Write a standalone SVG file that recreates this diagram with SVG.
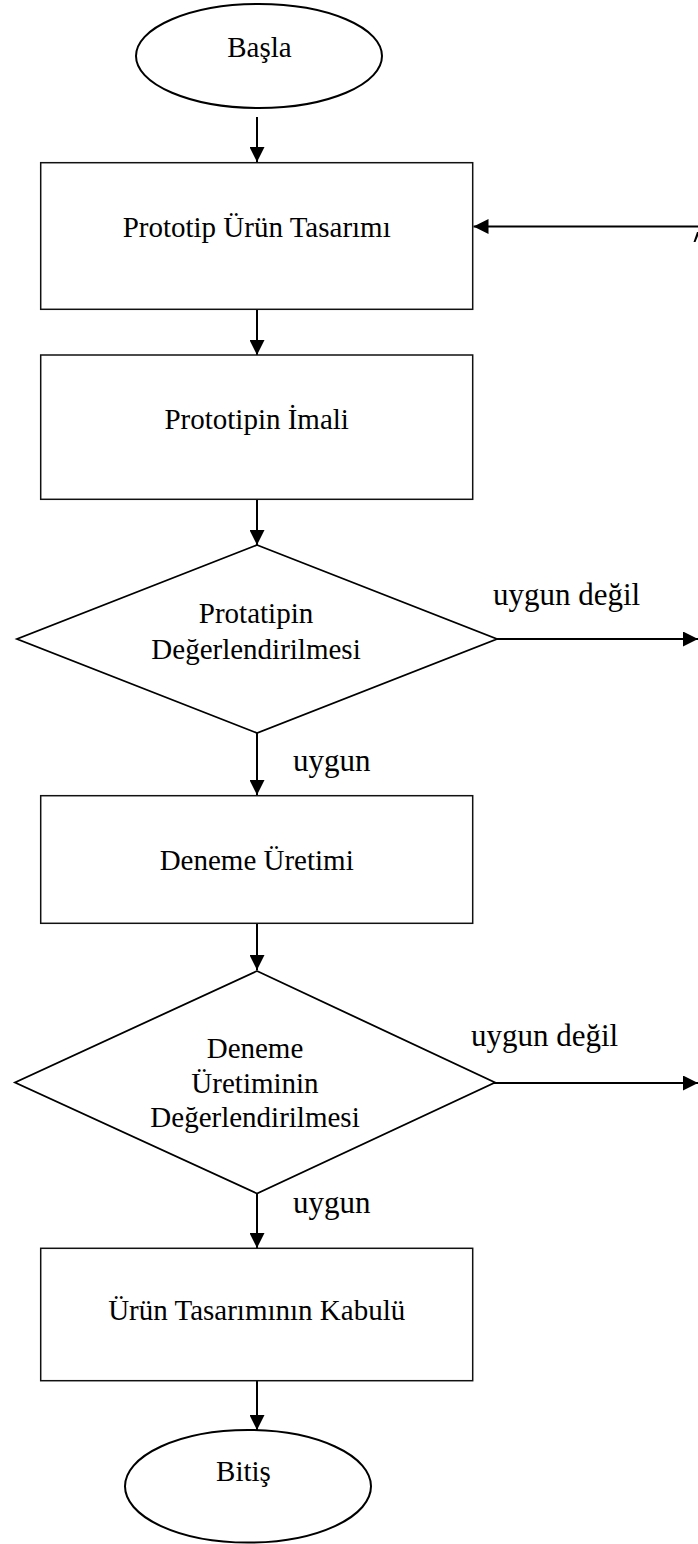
<svg xmlns="http://www.w3.org/2000/svg" width="698" height="1544" viewBox="0 0 698 1544">
  <style>
    .box { fill: #fff; stroke: #111; stroke-width: 1.5; }
    .term { fill: #fff; stroke: #000; stroke-width: 2; }
    .dec { fill: #fff; stroke: #000; stroke-width: 1.8; }
    .lbl { font-family: "Liberation Serif", "Times New Roman", serif; font-size: 29px; fill: #000; text-anchor: middle; }
    .edge { font-family: "Liberation Serif", "Times New Roman", serif; font-size: 31px; fill: #000; }
    .conn { stroke: #000; stroke-width: 2; fill: none; }
  </style>
  <defs>
    <marker id="arrow" viewBox="0 0 15 15" refX="15" refY="7.5" markerWidth="15" markerHeight="15" markerUnits="userSpaceOnUse" orient="auto">
      <path d="M0,0 L15,7.5 L0,15 Z" fill="#000"/>
    </marker>
  </defs>

  <rect width="698" height="1544" fill="#fff"/>

  <!-- flow connectors -->
  <g id="connectors">
    <line class="conn" x1="257" y1="117" x2="257" y2="162" marker-end="url(#arrow)"/>
    <line class="conn" x1="257" y1="310" x2="257" y2="355" marker-end="url(#arrow)"/>
    <line class="conn" x1="257" y1="500" x2="257" y2="545" marker-end="url(#arrow)"/>
    <line class="conn" x1="257" y1="733" x2="257" y2="795" marker-end="url(#arrow)"/>
    <line class="conn" x1="257" y1="924" x2="257" y2="970" marker-end="url(#arrow)"/>
    <line class="conn" x1="257" y1="1193" x2="257" y2="1248" marker-end="url(#arrow)"/>
    <line class="conn" x1="257" y1="1381" x2="257" y2="1430" marker-end="url(#arrow)"/>
    <!-- rejection exits to the right -->
    <line class="conn" x1="495" y1="639" x2="698" y2="639" marker-end="url(#arrow)"/>
    <line class="conn" x1="493" y1="1083" x2="698" y2="1083" marker-end="url(#arrow)"/>
    <!-- return path into the design step -->
    <line class="conn" x1="698" y1="226.5" x2="473.5" y2="226.5" marker-end="url(#arrow)"/>
    <path d="M693.5,242 L697,232 L698,232 L698,236 L695.5,242 Z" fill="#000"/>
    <text class="edge" x="293" y="771">uygun</text>
    <text class="edge" x="293" y="1213">uygun</text>
    <text class="edge" x="493" y="605">uygun değil</text>
    <text class="edge" x="471" y="1046">uygun değil</text>
  </g>

  <g id="start">
    <ellipse class="term" cx="259" cy="56" rx="123" ry="52"/>
    <text class="lbl" x="259.5" y="57">Başla</text>
  </g>

  <g id="design">
    <rect class="box" x="40.7" y="162.7" width="432" height="146.6"/>
    <text class="lbl" x="256.7" y="237.3">Prototip Ürün Tasarımı</text>
  </g>

  <g id="manufacture">
    <rect class="box" x="40.7" y="355" width="432" height="144.3"/>
    <text class="lbl" x="256.7" y="429.3">Prototipin İmali</text>
  </g>

  <g id="evaluate-prototype">
    <polygon class="dec" points="257,545 497,639 257,733 17,639"/>
    <text class="lbl" x="256" y="623.3">Protatipin</text>
    <text class="lbl" x="256" y="659">Değerlendirilmesi</text>
  </g>

  <g id="trial">
    <rect class="box" x="40.7" y="795.7" width="432" height="127.6"/>
    <text class="lbl" x="256.7" y="870">Deneme Üretimi</text>
  </g>

  <g id="evaluate-trial">
    <polygon class="dec" points="257,971 495,1082.5 257,1193.5 15,1082.5"/>
    <text class="lbl" x="255" y="1058">Deneme</text>
    <text class="lbl" x="255" y="1092.7">Üretiminin</text>
    <text class="lbl" x="255" y="1126.7">Değerlendirilmesi</text>
  </g>

  <g id="accept">
    <rect class="box" x="40.7" y="1248.3" width="432" height="132.4"/>
    <text class="lbl" x="256.7" y="1320">Ürün Tasarımının Kabulü</text>
  </g>

  <g id="end">
    <ellipse class="term" cx="248" cy="1486.3" rx="123" ry="56.3"/>
    <text class="lbl" x="243.5" y="1481">Bitiş</text>
  </g>
</svg>
